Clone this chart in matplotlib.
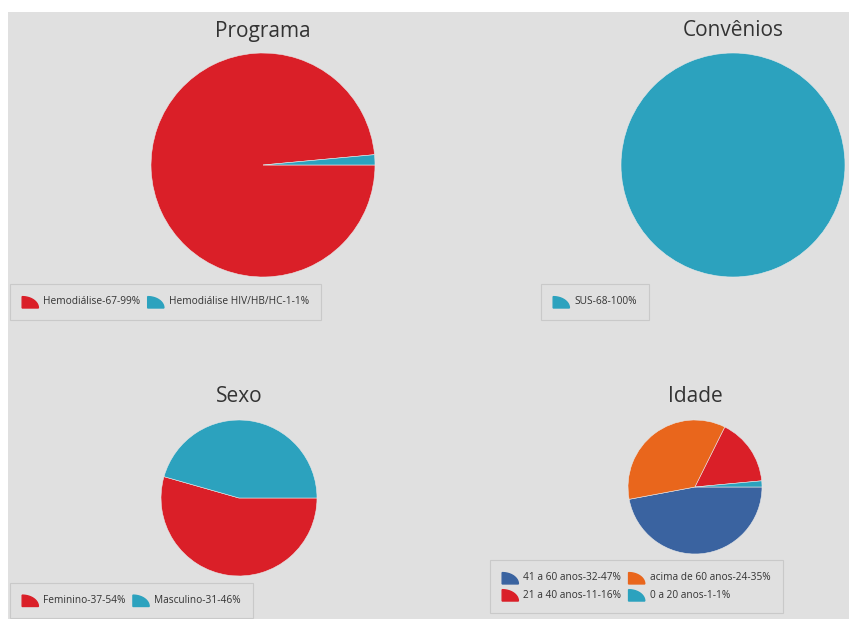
import matplotlib.pyplot as plt
from matplotlib.patches import Polygon
from matplotlib.legend_handler import HandlerPatch
import numpy as np

plt.rcParams['font.family'] = ['Open Sans', 'DejaVu Sans']

RED = '#da1f28'
CYAN = '#2ca2be'
BLUE = '#3a63a0'
ORANGE = '#e9661c'
BG = '#e0e0e0'
TXT = '#333333'

programa_labels = ['Hemodiálise', 'Hemodiálise HIV/HB/HC']
programa_counts = [67, 1]
programa_pct = [99, 1]

convenios_labels = ['SUS']
convenios_counts = [68]
convenios_pct = [100]

sexo_labels = ['Feminino', 'Masculino']
sexo_counts = [37, 31]
sexo_pct = [54, 46]

idade_labels = ['41 a 60 anos', 'acima de 60 anos', '21 a 40 anos', '0 a 20 anos']
idade_counts = [32, 24, 11, 1]
idade_pct = [47, 35, 16, 1]

W, H = 849, 619
fig = plt.figure(figsize=(W / 100, H / 100), dpi=100, facecolor='white')

# gray panel
panel = fig.add_axes([8 / W, 0, 1 - 8 / W, 1 - 12 / H])
panel.set_facecolor(BG)
panel.set_xticks([])
panel.set_yticks([])
for s in panel.spines.values():
    s.set_visible(False)


def quarter(legend, orig_handle, xdescent, ydescent, width, height, fontsize):
    w = width
    h = height * 1.35
    x0, y0 = -xdescent, -ydescent - 2
    t = np.linspace(0, np.pi / 2, 20)
    pts = [(x0, y0)] + [(x0 + w * np.cos(a), y0 + h * np.sin(a)) for a in t]
    return Polygon(pts, closed=True)


def px_axes(cx, cy, r):
    return fig.add_axes([(cx - r) / W, 1 - (cy + r) / H, 2 * r / W, 2 * r / H])


def draw_pie(cx, cy, r, title, title_y, counts, colors, labels, pct, leg_box, ncol=None, order=None):
    ax = px_axes(cx, cy, r)
    ax.pie(counts, colors=colors, startangle=0, counterclock=False,
           wedgeprops=dict(linewidth=0.4, edgecolor='#e8e8e8'))
    ax.set_xlim(-1, 1)
    ax.set_ylim(-1, 1)
    ax.set_aspect('auto')
    ax.axis('off')
    fig.text(cx / W, 1 - title_y / H, title, ha='center', va='center',
             fontsize=15, color=TXT)

    handles = [plt.Rectangle((0, 0), 1, 1, color=c) for c in colors]
    texts = [f'{l}-{n}-{p}%' for l, n, p in zip(labels, counts, pct)]
    if order is not None:
        handles = [handles[i] for i in order]
        texts = [texts[i] for i in order]
    if ncol is None:
        ncol = len(texts)
    x0, y0, x1, y1 = leg_box
    leg = fig.legend(handles, texts, loc='center left', ncol=ncol,
                     bbox_to_anchor=(x0 / W, 1 - (y0 + y1) / 2 / H),
                     frameon=True, fancybox=False, fontsize=7.3,
                     handler_map={plt.Rectangle: HandlerPatch(patch_func=quarter)},
                     handlelength=1.6, handleheight=0.9, handletextpad=0.5,
                     columnspacing=0.7, labelspacing=0.6, borderpad=1.2,
                     borderaxespad=0)
    leg.get_frame().set_facecolor(BG)
    leg.get_frame().set_edgecolor('#c4c4c4')
    leg.get_frame().set_linewidth(0.8)
    for t in leg.get_texts():
        t.set_color(TXT)


draw_pie(263, 165, 112, 'Programa', 31, programa_counts, [RED, CYAN],
         programa_labels, programa_pct, (10, 285, 318, 319))
draw_pie(733, 165, 112, 'Convênios', 30, convenios_counts, [CYAN],
         convenios_labels, convenios_pct, (541, 285, 648, 319))
draw_pie(239, 498, 78, 'Sexo', 396, sexo_counts, [RED, CYAN],
         sexo_labels, sexo_pct, (10, 584, 250, 617))
draw_pie(695, 487, 67, 'Idade', 396, idade_counts, [BLUE, ORANGE, RED, CYAN],
         idade_labels, idade_pct, (490, 561, 782, 612), ncol=2, order=[0, 2, 1, 3])

fig.savefig('out.png', dpi=100, facecolor='white')
